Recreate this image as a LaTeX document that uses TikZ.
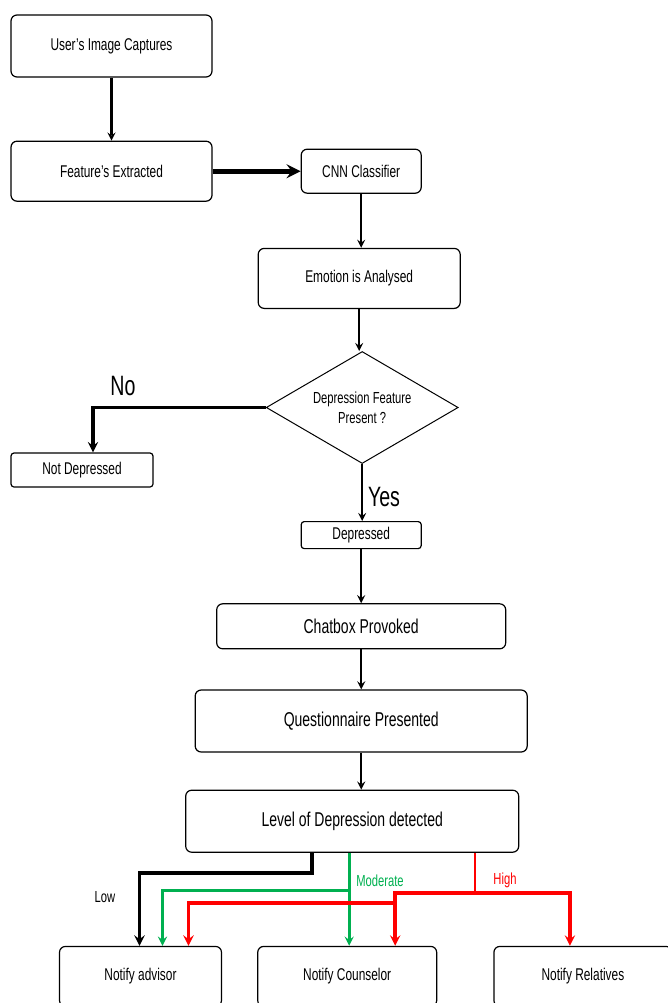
\documentclass[tikz,border=0pt]{standalone}
\usepackage{fontspec}
\setmainfont{Liberation Sans}[FakeStretch=0.7]
\usepackage{xcolor}
\usepackage{tikz}
\usetikzlibrary{shapes.geometric, positioning}
\definecolor{okgreen}{RGB}{0,176,80}
\tikzstyle{process} = [rectangle, rounded corners=6pt, minimum height=60pt, text centered, draw=black, line width=1.2pt, font=\fontsize{17}{19}\selectfont]
\tikzstyle{bigprocess} = [process, font=\fontsize{20}{22}\selectfont]
\tikzstyle{decision} = [diamond, aspect=1.7, minimum width=192pt, minimum height=112pt, inner sep=0pt, text centered, draw=black, line width=1pt, font=\fontsize{16}{20}\selectfont]
\tikzstyle{arrow} = [line width=2.5pt, -stealth]
\tikzstyle{thickarrow} = [line width=5pt, -stealth]
\tikzstyle{lowarrow} = [line width=3.5pt, -stealth]
\tikzstyle{modarrow} = [line width=3pt, -stealth, draw=okgreen]
\tikzstyle{higharrow} = [line width=3.5pt, -stealth, draw=red]

\begin{document}
\begin{tikzpicture}[x=1pt, y=1pt]
		\useasboundingbox (0,0) rectangle (667,-1003);
		\node (Image Capture)[process, minimum width=201pt, minimum height=62pt] at (111.5,-46){User's Image  Captures};
		\node (Feature Extracted)[process, minimum width=201pt, below = 63pt of Image Capture]{Feature's Extracted};
		\node (CNN)[process, minimum width=120pt, minimum height=44pt, right = 88pt of Feature Extracted]{CNN  Classifier};
		\node (Emotion)[process, minimum width=202pt, below = 54pt of CNN, xshift=-2pt]{Emotion  is Analysed};
		\node (Depression Check)[decision, below = 42pt of Emotion, xshift=3pt, align=center]{Depression Feature\\Present ?};
		\node (Not Depressed)[process, minimum width=142pt, minimum height=34pt, rounded corners=3pt] at (82,-470){Not Depressed};
		\node (Depressed)[process, minimum width=120pt, minimum height=27pt, rounded corners=3pt, below = 57pt of Depression Check, xshift=-1pt]{Depressed};
		\node (Chatbox)[bigprocess, minimum width=289pt, minimum height=45pt, below = 54pt of Depressed]{Chatbox Provoked};
		\node (Questionnaire)[bigprocess, minimum width=332pt, minimum height=62pt, below = 40pt of Chatbox]{Questionnaire Presented};
		\node (Level)[bigprocess, minimum width=333pt, minimum height=62pt, below = 37pt of Questionnaire, xshift=-9pt]{Level  of Depression detected};
		\node (Notify Counselor)[process, minimum width=179pt, below = 93pt of Level, xshift=-5pt]{Notify Counselor};
		\node (Notify Advisor)[process, minimum width=162pt, left = 35pt of Notify Counselor]{Notify advisor};
		\node (Notify Relatives)[process, minimum width=178pt, right = 56pt of Notify Counselor]{Notify Relatives};
		% labels on the branches
		\node (No Label)[font=\fontsize{28}{30}\selectfont] at (123,-386){No};
		\node (Yes Label)[font=\fontsize{28}{30}\selectfont] at (384,-497){Yes};
		\node (Low Label)[font=\fontsize{16}{18}\selectfont] at (105,-897){Low};
		\node (Moderate Label)[font=\fontsize{16}{18}\selectfont, text=okgreen] at (380,-881){Moderate};
		\node (High Label)[font=\fontsize{16}{18}\selectfont, text=red] at (505,-880){High};
		\coordinate (High Split) at ([xshift=123pt, yshift=-40pt]Level.south);
		\draw [arrow] (Image Capture) -- (Feature Extracted);
		\draw [thickarrow] (Feature Extracted) -- (CNN);
		\draw [arrow] (CNN) -- (CNN |- Emotion.north);
		\draw [arrow] (Emotion) -- (Emotion |- Depression Check.north);
		\draw [lowarrow] (Depression Check.west) -| ([xshift=11pt]Not Depressed.north);
		\draw [arrow] (Depression Check) -- (Depression Check |- Depressed.north);
		\draw [arrow] (Depressed) -- (Chatbox);
		\draw [arrow] (Chatbox) -- (Questionnaire);
		\draw [arrow] (Questionnaire) -- (Questionnaire |- Level.north);
		% level of depression routes
		\draw [lowarrow] ([xshift=-40pt]Level.south) -- ++(0,-20pt) -| ([xshift=-1pt]Notify Advisor.north);
		\draw [modarrow] ([xshift=-3pt]Level.south) -- ([xshift=-3pt]Level.south |- Notify Counselor.north);
		\draw [modarrow] ([xshift=-3pt, yshift=-38pt]Level.south) -| ([xshift=22pt]Notify Advisor.north);
		\draw [line width=2.5pt, red] ([xshift=123pt]Level.south) -- (High Split);
		\draw [higharrow] (High Split) -| ([xshift=-13pt]Notify Relatives.north);
		\draw [higharrow] (High Split) -| ([xshift=48pt]Notify Counselor.north);
		\draw [higharrow] ([xshift=48pt, yshift=43pt]Notify Counselor.north) -| ([xshift=48pt]Notify Advisor.north);
	\end{tikzpicture}
\end{document}
